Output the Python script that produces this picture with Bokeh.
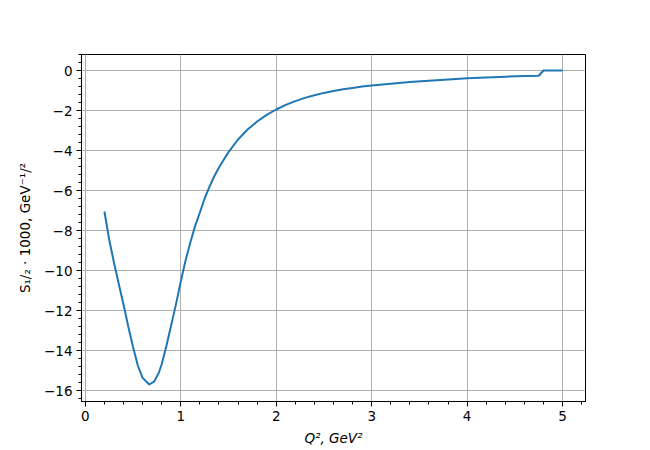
from bokeh.plotting import figure
from bokeh.models import Range1d, SingleIntervalTicker, CustomJSTickFormatter, ColumnDataSource
from bokeh.embed import file_html
from bokeh.resources import INLINE

# Data
q2 = [0.20, 0.25, 0.30, 0.35, 0.40, 0.45, 0.50, 0.55, 0.60, 0.67, 0.72, 0.77, 0.80,
      0.85, 0.90, 0.95, 1.00, 1.05, 1.10, 1.15, 1.20, 1.25, 1.30, 1.35, 1.40, 1.45,
      1.50, 1.60, 1.70, 1.80, 1.90, 2.00, 2.10, 2.20, 2.30, 2.40, 2.50, 2.60, 2.70,
      2.80, 2.90, 3.00, 3.20, 3.40, 3.60, 3.80, 4.00, 4.20, 4.40, 4.60, 4.75, 4.80, 5.00]
s12 = [-7.05, -8.45, -9.60, -10.66, -11.70, -12.80, -13.83, -14.75, -15.37, -15.70, -15.56,
       -15.11, -14.69, -13.76, -12.73, -11.68, -10.55, -9.50, -8.60, -7.78, -7.10, -6.40,
       -5.82, -5.30, -4.85, -4.46, -4.08, -3.45, -2.95, -2.55, -2.22, -1.95, -1.72, -1.53,
       -1.37, -1.24, -1.12, -1.02, -0.94, -0.87, -0.80, -0.75, -0.66, -0.58, -0.51, -0.45,
       -0.39, -0.35, -0.31, -0.28, -0.26, 0.0, 0.0]

x_label = "Q², GeV²"
y_label = "S₁/₂ · 1000, GeV⁻¹/²"

src = ColumnDataSource(data=dict(x=q2, y=s12))

p = figure(frame_width=504, frame_height=347,
           output_backend="svg", toolbar_location=None,
           x_range=Range1d(-0.04, 5.24), y_range=Range1d(-16.55, 0.8),
           min_border_left=81, min_border_top=54, min_border_right=57, min_border_bottom=41)
p.background_fill_color = "white"
p.border_fill_color = "white"
p.outline_line_color = "black"
p.outline_line_width = 1
p.outline_line_alpha = 1

p.line("x", "y", source=src, line_color="#1f77b4", line_width=2)

p.xaxis.ticker = SingleIntervalTicker(interval=1, num_minor_ticks=5)
p.yaxis.ticker = SingleIntervalTicker(interval=2, num_minor_ticks=5)
fmt = "return String(tick).replace('-', '\u2212');"
p.xaxis.formatter = CustomJSTickFormatter(code=fmt)
p.yaxis.formatter = CustomJSTickFormatter(code=fmt)

for ax in (p.xaxis, p.yaxis):
    ax.major_tick_out = 5
    ax.major_tick_in = 0
    ax.minor_tick_out = 3
    ax.minor_tick_in = 0
    ax.major_tick_line_color = "black"
    ax.minor_tick_line_color = "black"
    ax.axis_line_color = "black"
    ax.major_label_text_font = "DejaVu Sans"
    ax.major_label_text_font_size = "13.5px"
    ax.major_label_text_color = "black"
    ax.axis_label_text_font = "DejaVu Sans"
    ax.axis_label_text_font_size = "13.5px"
    ax.axis_label_text_color = "black"
    ax.major_label_standoff = 4

p.xaxis.axis_label = x_label
p.xaxis.axis_label_text_font_style = "italic"
p.xaxis.axis_label_standoff = 6
p.yaxis.axis_label = y_label
p.yaxis.axis_label_text_font_style = "normal"
p.yaxis.axis_label_standoff = 8

p.xgrid.grid_line_color = "#b0b0b0"
p.ygrid.grid_line_color = "#b0b0b0"
p.xgrid.grid_line_width = 1
p.ygrid.grid_line_width = 1

open("out.html", "w").write(file_html(p, INLINE))
